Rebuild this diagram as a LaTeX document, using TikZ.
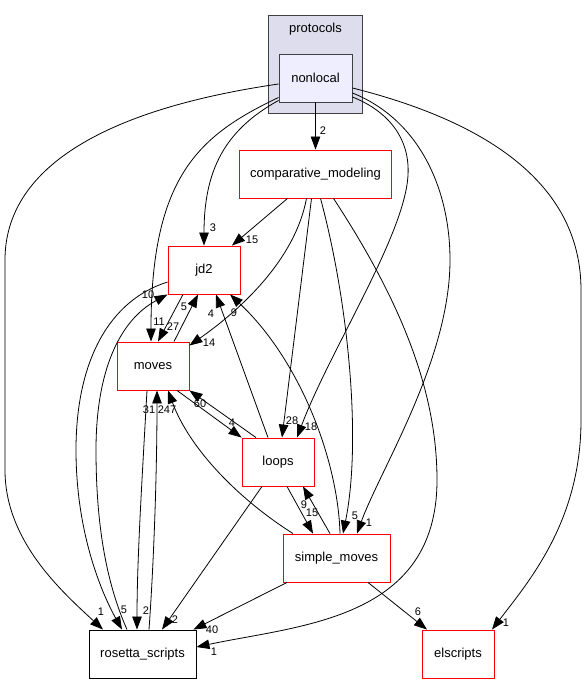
\documentclass[tikz,border=0pt]{standalone}
\usepackage{fontspec}
\setmainfont{Liberation Sans}
\usetikzlibrary{arrows.meta}
\definecolor{clusterfill}{HTML}{DDDDEE}
\definecolor{leaffill}{HTML}{EEEEFF}
\definecolor{frame}{HTML}{404040}

\begin{document}
\begin{tikzpicture}[x=1pt, y=-1pt, font=\fontsize{13}{15}\selectfont,
dirbox/.style={draw=red,line width=0.9pt,fill=white,minimum width=72pt,minimum height=48pt,inner sep=0pt},
leaf/.style={dirbox,draw=frame,fill=leaffill,minimum width=73pt},
cluster/.style={draw=frame,line width=0.9pt,fill=clusterfill,minimum width=94pt,minimum height=98pt,inner sep=0pt},
arrow/.style={-{Triangle[length=13pt,width=9.5pt]},line width=0.8pt},
num/.style={font=\fontsize{11}{13}\selectfont,inner sep=0pt}]
\useasboundingbox (0,0) rectangle (587,684);
\node[cluster] (protocols) at (315.5,64.5) {};
\node (protocolsname) at (315.5,29) {protocols};
\node[leaf] (nonlocal) at (315.5,78) {nonlocal};
\node[dirbox,minimum width=152pt] (cm) at (315.5,174) {comparative\_modeling};
\node[dirbox] (jd2) at (204,270) {jd2};
\node[dirbox] (moves) at (153,366) {moves};
\node[dirbox] (loops) at (278,462) {loops};
\node[dirbox,minimum width=107pt] (simple) at (336.5,558) {simple\_moves};
\node[dirbox,draw=black,minimum width=107pt] (rosetta) at (142.5,654) {rosetta\_scripts};
\node[dirbox] (elscripts) at (458,654) {elscripts};
% nonlocal
\draw[arrow] (nonlocal) -- (cm) node[num] at (323,131) {2};
\draw[arrow] ([yshift=2pt]nonlocal.south west) .. controls (225,130) and (204,170) .. (jd2.north) node[num] at (213,228) {3};
\draw[arrow] ([yshift=5pt]nonlocal.south west) .. controls (200,135) and (151,175) .. ([xshift=-2pt]moves.north) node[num] at (159,322) {11};
\draw[arrow] ([yshift=-6pt]nonlocal.west) .. controls (100,110) and (5,170) .. (5,260) -- (5,470) .. controls (5,540) and (60,590) .. ([xshift=-39.5pt]rosetta.north) node[num] at (101,612) {1};
\draw[arrow] ([yshift=-19pt]nonlocal.east) .. controls (390,112) and (410,140) .. (408,175) .. controls (405,235) and (330,350) .. ([xshift=19pt]loops.north) node[num] at (311,427) {18};
\draw[arrow] ([yshift=-15pt]nonlocal.east) .. controls (420,120) and (450,190) .. (450,260) .. controls (450,360) and (380,470) .. ([xshift=20.5pt]simple.north) node[num] at (369,523) {1};
\draw[arrow] ([yshift=-10pt]nonlocal.east) .. controls (480,120) and (581,180) .. (581,290) -- (581,420) .. controls (581,520) and (530,580) .. ([xshift=34pt]elscripts.north) node[num] at (506,623) {1};
% comparative_modeling
\draw[arrow] ([xshift=-28pt]cm.south) -- ([xshift=28pt]jd2.north) node[num] at (252,240) {15};
\draw[arrow] ([xshift=-9pt]cm.south) .. controls (295,260) and (240,310) .. ([yshift=-4pt]moves.north east) node[num] at (209,343) {14};
\draw[arrow] ([xshift=-4pt]cm.south) -- ([xshift=4pt]loops.north) node[num] at (292,421) {28};
\draw[arrow] ([xshift=5pt]cm.south) .. controls (348,300) and (362,440) .. ([xshift=6.5pt]simple.north) node[num] at (355,516) {5};
\draw[arrow] ([xshift=18pt]cm.south) .. controls (400,300) and (437,390) .. (437,480) .. controls (437,620) and (300,625) .. ([yshift=7pt]rosetta.east) node[num] at (214,652) {1};
% jd2
\draw[arrow] ([xshift=-21pt]jd2.south) -- ([xshift=5pt]moves.north) node[num] at (173,327) {27};
\draw[arrow] ([yshift=-12pt]jd2.west) .. controls (110,300) and (76,360) .. (76,450) .. controls (76,530) and (100,590) .. ([xshift=-20.5pt]rosetta.north) node[num] at (124,610) {5};
% moves
\draw[arrow] ([xshift=21pt]moves.north) -- ([xshift=-6pt]jd2.south) node[num] at (184,307) {5};
\draw[arrow] ([xshift=24pt]moves.south) -- (loops.north west) node[num] at (232,423) {4};
\draw[arrow] ([xshift=-6pt]moves.south) .. controls (142,480) and (137,560) .. ([xshift=-5.5pt]rosetta.north) node[num] at (146,611) {2};
% loops
\draw[arrow] ([xshift=-10pt]loops.north) -- ([xshift=12pt]jd2.south) node[num] at (211,314) {4};
\draw[arrow] ([xshift=-22pt]loops.north) -- (moves.south east) node[num] at (200,404) {60};
\draw[arrow] ([xshift=9pt]loops.south) -- ([xshift=-23.5pt]simple.north) node[num] at (312,513) {15};
\draw[arrow] ([xshift=-16pt]loops.south) -- ([xshift=19.5pt]rosetta.north) node[num] at (175,620) {2};
% simple_moves
\draw[arrow] ([xshift=3.5pt]simple.north) .. controls (338,460) and (300,360) .. ([xshift=26pt]jd2.south) node[num] at (234,313) {9};
\draw[arrow] ([xshift=-43.5pt]simple.north) .. controls (240,500) and (190,450) .. ([xshift=15pt]moves.south) node[num] at (167,410) {247};
\draw[arrow] ([xshift=-6.5pt]simple.north) -- ([xshift=25pt]loops.south) node[num] at (304,505) {9};
\draw[arrow] ([xshift=-49.5pt]simple.south) -- ([xshift=-3pt]rosetta.north east) node[num] at (212,630) {40};
\draw[arrow] ([xshift=31.5pt]simple.south) -- ([xshift=-31pt]elscripts.north) node[num] at (418,612) {6};
% rosetta_scripts
\draw[arrow] ([xshift=-15.5pt]rosetta.north) .. controls (105,580) and (96,520) .. (96,450) .. controls (96,370) and (120,320) .. (jd2.south west) node[num] at (148,295) {10};
\draw[arrow] ([xshift=6.5pt]rosetta.north) .. controls (154,560) and (157,470) .. ([xshift=4pt]moves.south) node[num] at (149,410) {31};
\end{tikzpicture}
\end{document}
